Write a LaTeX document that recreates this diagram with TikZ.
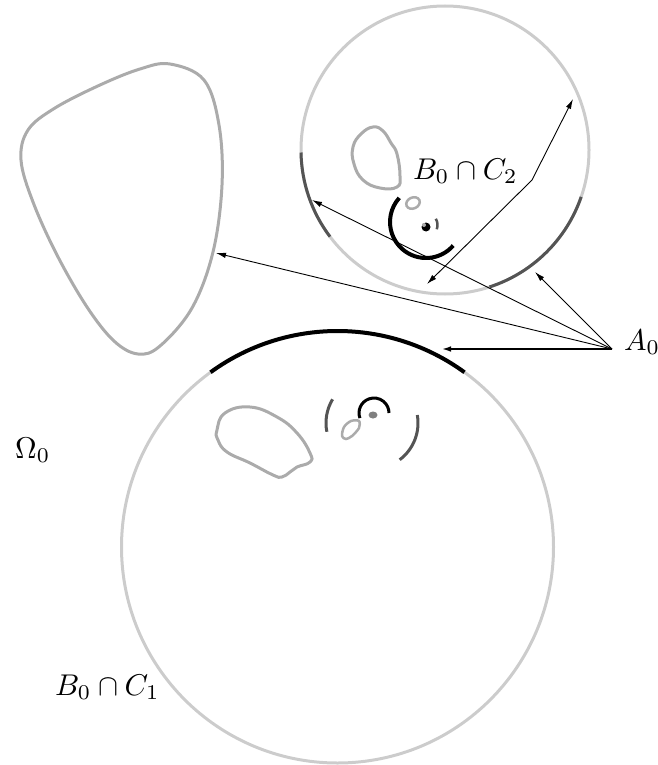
\documentclass[tikz,border=0pt]{standalone}
\usepackage{amsmath,amssymb}
\usepackage{graphicx}
\usepackage{xcolor}
\usepackage{tikz}
\usetikzlibrary{arrows.meta,calc}

\definecolor{rimgray}{gray}{0.80}
\definecolor{blobgray}{gray}{0.67}
\definecolor{darkarc}{gray}{0.33}
\newcommand{\bigmath}[1]{\scalebox{3}{$#1$}}

\begin{document}
\begin{tikzpicture}[x=1pt,y=-1pt,>={Latex[length=10pt,width=5.5pt]},
  rim/.style={draw=rimgray,line width=3pt},
  blob/.style={draw=blobgray,line width=3pt,smooth cycle,tension=0.75},
  darc/.style={draw=darkarc,line width=3pt},
  barc/.style={draw=black,line width=4pt},
  lab/.style={inner sep=0pt,anchor=base west},
  ptr/.style={->,line width=0.9pt}]
  \useasboundingbox (0,0) rectangle (658,765);
  % ---- Omega_0 ----
  \draw[blob,tension=0.6] plot coordinates {(170,64) (204,80) (219,125)
    (222,185) (213,252) (192,308) (160,346) (138,354) (114,341) (87,307)
    (57,255) (33,202) (21,160) (28,130) (55,108) (100,85) (140,69)};
  \node[lab] (om) at (15,458) {\bigmath{\Omega_0}};
  % ---- ball C_2 ----
  \coordinate (c2) at (445,150);
  \draw[rim] (c2) circle[radius=144];
  \draw[darc] ($(c2)+(143:144)$) arc[start angle=143,end angle=179,radius=144];
  \draw[darc] ($(c2)+(19:144)$) arc[start angle=19,end angle=72,radius=144];
  \draw[blob] plot coordinates {(373,127) (361,134) (353,147) (354,164)
    (363,180) (380,188) (397,187) (400,176) (397,154) (391,143) (383,131)};
  \draw[draw=blobgray,line width=2.5pt,rotate around={25:(413,203)}]
    (413,203) ellipse[x radius=7,y radius=5.5];
  \coordinate (k2) at (426,222);
  \draw[barc] ($(k2)+(41:36)$) arc[start angle=41,end angle=222,radius=36];
  \fill (426,227) circle[radius=4.5];
  \fill[blobgray] (424,225) circle[radius=2];
  \coordinate (d2) at (425,225);
  \draw[darc,line width=2.5pt] ($(d2)+(-30:12.5)$) arc[start angle=-30,end angle=20,radius=12.5];
  \node[lab] (lC2) at (413,179.3) {\bigmath{B_0\cap C_2}};
  % radius pointer
  \coordinate (zzA) at (427,284);
  \coordinate (zzB) at (532,180);
  \coordinate (zzC) at (573,99);
  \draw[<->,line width=0.9pt] (zzA) -- (zzB) -- (zzC);
  % ---- ball C_1 ----
  \coordinate (c1) at (337.5,547);
  \draw[rim] (c1) circle[radius=216];
  \draw[barc] ($(c1)+(-126:216)$) arc[start angle=-126,end angle=-54,radius=216];
  \draw[blob] plot coordinates {(217,430) (225,413) (250,407) (277,417)
    (297,433) (310,453) (310,462) (297,467) (290,472) (282,477) (273,475)
    (250,463) (227,452) (218,440)};
  \coordinate (d1) at (372,423);
  \draw[darc] ($(d1)+(169:46)$) arc[start angle=169,end angle=211,radius=46];
  \draw[darc] ($(d1)+(-10:46)$) arc[start angle=-10,end angle=53,radius=46];
  \coordinate (k1) at (374,413);
  \draw[barc,line width=3pt] ($(k1)+(160:15)$) arc[start angle=160,end angle=360,radius=15];
  \draw[draw=blobgray,line width=2.5pt,smooth cycle] plot coordinates {(342,436) (344,427)
    (351,421) (359,421) (359,428) (352,436) (346,439)};
  \fill[gray] (373,415) ellipse[x radius=4.5,y radius=3.5];
  \node[lab] (lC1) at (55,695) {\bigmath{B_0\cap C_1}};
  % ---- A_0 and its pointers ----
  \coordinate (a0) at (612,349);
  \node[lab] (lA0) at (624,350) {\bigmath{A_0}};
  \coordinate (tR) at (535,272);
  \coordinate (tC2) at (312,200);
  \coordinate (tOm) at (216,253);
  \coordinate (tC1) at (441,349);
  \draw[ptr] (a0) -- (tR);
  \draw[ptr] (a0) -- (tC2);
  \draw[ptr] (a0) -- (tOm);
  \draw[ptr,line width=2pt] (a0) -- (tC1);
\end{tikzpicture}
\end{document}
